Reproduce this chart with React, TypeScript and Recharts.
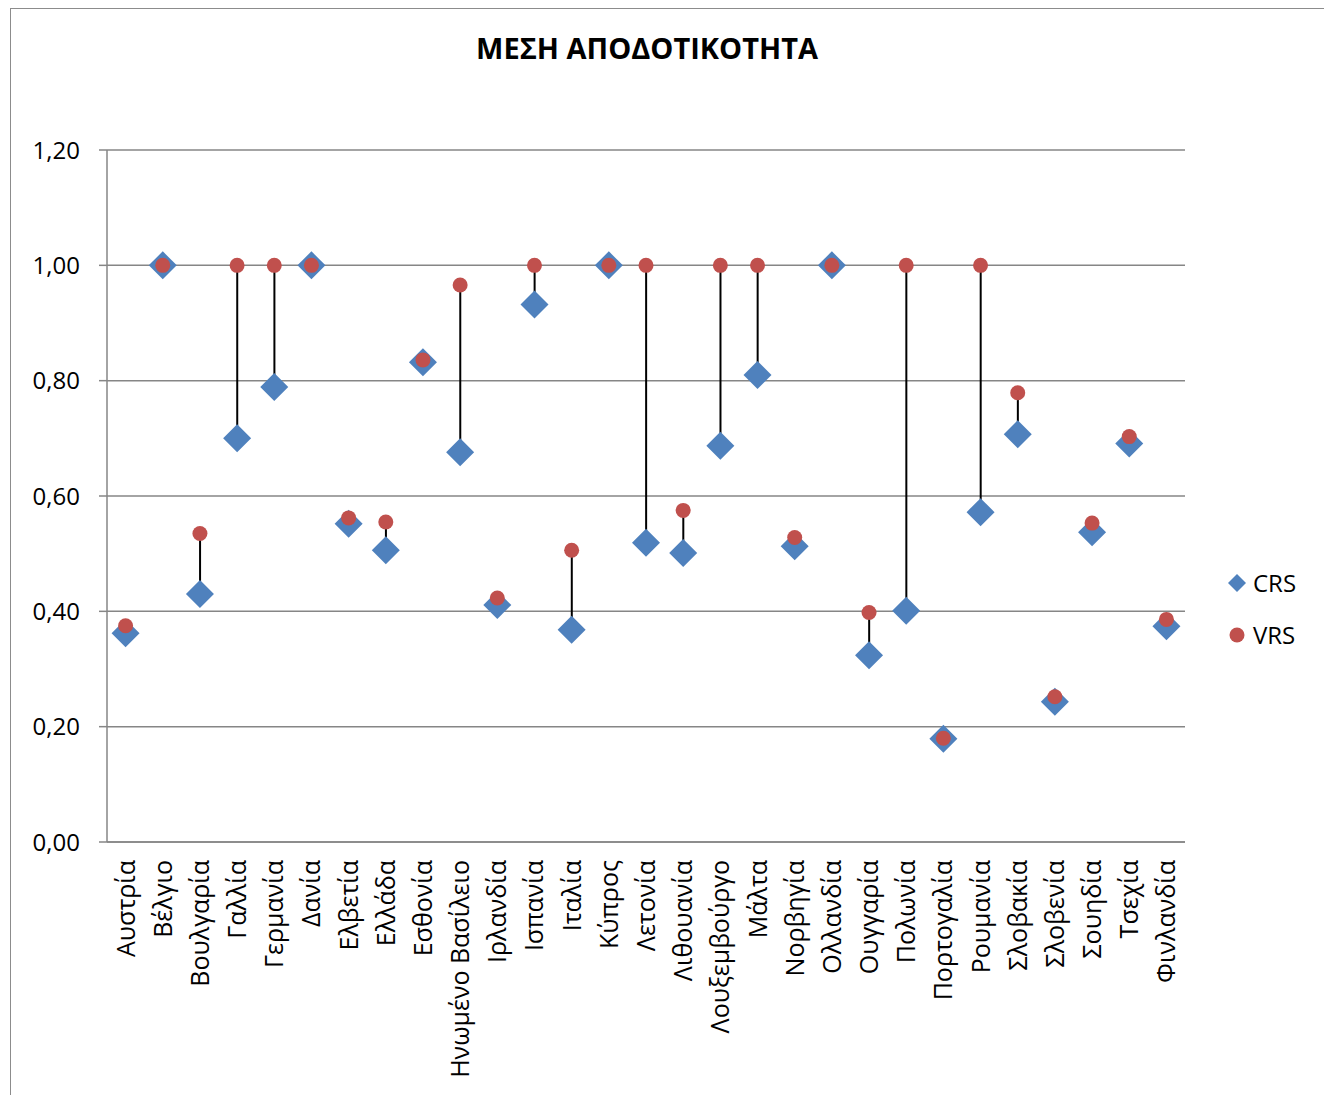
import { Bar, CartesianGrid, ComposedChart, Legend, Scatter, XAxis, YAxis } from 'recharts';

const countries = [
  'Αυστρία', 'Βέλγιο', 'Βουλγαρία', 'Γαλλία', 'Γερμανία', 'Δανία', 'Ελβετία', 'Ελλάδα',
  'Εσθονία', 'Ηνωμένο Βασίλειο', 'Ιρλανδία', 'Ισπανία', 'Ιταλία', 'Κύπρος', 'Λετονία',
  'Λιθουανία', 'Λουξεμβούργο', 'Μάλτα', 'Νορβηγία', 'Ολλανδία', 'Ουγγαρία', 'Πολωνία',
  'Πορτογαλία', 'Ρουμανία', 'Σλοβακία', 'Σλοβενία', 'Σουηδία', 'Τσεχία', 'Φινλανδία',
];

const crs = [
  0.362, 1.0, 0.43, 0.7, 0.789, 1.0, 0.552, 0.506, 0.832, 0.676, 0.411, 0.932, 0.368, 1.0, 0.519,
  0.501, 0.687, 0.81, 0.513, 1.0, 0.324, 0.401, 0.179, 0.572, 0.707, 0.243, 0.537, 0.691, 0.374,
];

const vrs = [
  0.375, 1.0, 0.535, 1.0, 1.0, 1.0, 0.562, 0.555, 0.836, 0.966, 0.423, 1.0, 0.506, 1.0, 1.0,
  0.575, 1.0, 1.0, 0.528, 1.0, 0.398, 1.0, 0.18, 1.0, 0.779, 0.252, 0.553, 0.703, 0.386,
];

const yTicks = [0, 0.2, 0.4, 0.6, 0.8, 1.0, 1.2];

const data = countries.map((name, i) => ({
  name,
  crs: crs[i],
  vrs: vrs[i],
  span: [crs[i], vrs[i]],
}));

const BLUE = '#4F81BD';
const RED = '#C0504D';
const GRID = '#868686';
const FONT = '"Open Sans", sans-serif';

const Diamond = ({ cx, cy }: any) => {
  const r = 14;
  return <polygon points={`${cx},${cy - r} ${cx + r},${cy} ${cx},${cy + r} ${cx - r},${cy}`} fill={BLUE} />;
};

const Dot = ({ cx, cy }: any) => <circle cx={cx} cy={cy} r={7.5} fill={RED} />;

// thin black stem between the two scores
const Stem = ({ x, y, width, height }: any) => {
  if (!height || Math.abs(height) < 1) return <g />;
  const top = Math.min(y, y + height);
  const mid = x + width / 2;
  return <line x1={mid} x2={mid} y1={top} y2={top + Math.abs(height)} stroke="#000" strokeWidth={2} />;
};

const CountryTick = ({ x, y, payload }: any) => (
  <g transform={`translate(${x},${y})`}>
    <text transform="rotate(-90)" x={-16} y={0} dy="0.36em" textAnchor="end" fill="#000" fontSize={25} fontFamily={FONT}>
      {payload.value}
    </text>
  </g>
);

const LegendBox = () => (
  <svg width={110} height={100}>
    <polygon points="17,14 26,23 17,32 8,23" fill={BLUE} />
    <text x={33} y={32} fontSize={24} fontFamily={FONT} fill="#000">CRS</text>
    <circle cx={17} cy={75} r={7.5} fill={RED} />
    <text x={33} y={84} fontSize={24} fontFamily={FONT} fill="#000">VRS</text>
  </svg>
);

export default function App() {
  return (
    <div style={{ position: 'absolute', left: 0, top: 0, width: 1324, height: 1095, overflow: 'hidden', background: '#fff' }}>
      <div style={{ position: 'absolute', left: 10, top: 8, width: 1400, height: 1200, border: '1.5px solid #8c8c8c' }} />
      <div
        style={{
          position: 'absolute', left: 0, top: 28, width: 1294, textAlign: 'center',
          fontFamily: FONT, fontWeight: 700, fontSize: 29, lineHeight: '40px', color: '#000',
        }}
      >
        ΜΕΣΗ ΑΠΟΔΟΤΙΚΟΤΗΤΑ
      </div>
      <ComposedChart
        width={1324}
        height={1095}
        data={data}
        margin={{ top: 150, right: 139, bottom: 0, left: 0 }}
        style={{ position: 'absolute', left: 0, top: 0, fontFamily: FONT }}
      >
        <CartesianGrid vertical={false} stroke={GRID} strokeWidth={1.5} />
        <XAxis
          dataKey="name"
          interval={0}
          height={253}
          tick={<CountryTick />}
          tickLine={false}
          tickSize={0}
          axisLine={{ stroke: GRID, strokeWidth: 1.5 }}
        />
        <YAxis
          width={107}
          domain={[0, 1.2]}
          ticks={yTicks}
          tickFormatter={(v: number) => v.toFixed(2).replace('.', ',')}
          tick={{ fill: '#000', fontSize: 24, fontFamily: FONT }}
          tickSize={8}
          tickMargin={19}
          tickLine={{ stroke: GRID, strokeWidth: 1.5 }}
          axisLine={{ stroke: GRID, strokeWidth: 1.5 }}
        />
        <Bar dataKey="span" shape={<Stem />} isAnimationActive={false} legendType="none" />
        <Scatter name="CRS" dataKey="crs" shape={<Diamond />} isAnimationActive={false} />
        <Scatter name="VRS" dataKey="vrs" shape={<Dot />} isAnimationActive={false} />
        <Legend
          layout="horizontal"
          verticalAlign="middle"
          align="center"
          wrapperStyle={{ left: 1220, top: 560, width: 110, height: 100 }}
          content={() => <LegendBox />}
        />
      </ComposedChart>
    </div>
  );
}
